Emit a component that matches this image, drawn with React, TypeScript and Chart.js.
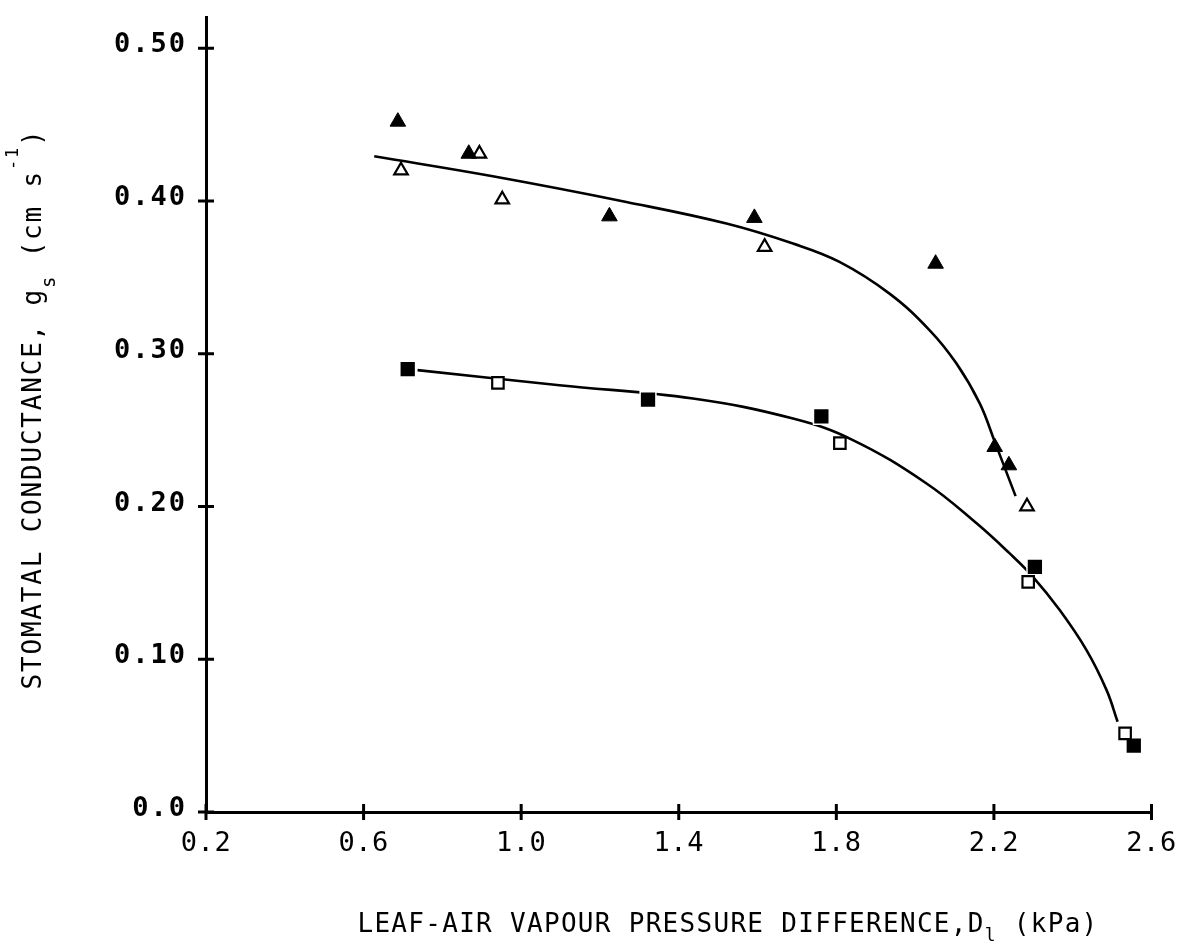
import React, { useEffect, useRef } from 'react';
import { Chart, registerables } from 'chart.js';

Chart.register(...registerables);

const FONT = "'DejaVu Sans Mono', monospace";

const xTickValues = [0.2, 0.6, 1.0, 1.4, 1.8, 2.2, 2.6];
const xTickLabels = ['0.2', '0.6', '1.0', '1.4', '1.8', '2.2', '2.6'];
const yTickValues = [0, 0.1, 0.2, 0.3, 0.4, 0.5];
const yTickLabels = ['0.0', '0.10', '0.20', '0.30', '0.40', '0.50'];

const filledTriangleX = [0.687, 0.867, 1.224, 1.592, 2.052, 2.202, 2.238];
const filledTriangleY = [0.452, 0.431, 0.39, 0.389, 0.359, 0.239, 0.227];
const openTriangleX = [0.695, 0.894, 0.952, 1.618, 2.284];
const openTriangleY = [0.42, 0.431, 0.401, 0.37, 0.2];
const filledSquareX = [0.712, 1.322, 1.762, 2.304, 2.555];
const filledSquareY = [0.29, 0.27, 0.259, 0.1605, 0.0434];
const openSquareX = [0.941, 1.809, 2.287, 2.533];
const openSquareY = [0.281, 0.2415, 0.1507, 0.0515];

const upperFitX = [0.627, 0.928, 1.267, 1.521, 1.69, 1.808, 1.935, 2.037, 2.105, 2.164, 2.202, 2.255];
const upperFitY = [0.4293, 0.4162, 0.3994, 0.3853, 0.3722, 0.3602, 0.3394, 0.3154, 0.2936, 0.2675, 0.2425, 0.2068];
const lowerFitX = [0.737, 1.097, 1.436, 1.69, 1.842, 2.029, 2.156, 2.24, 2.299, 2.367, 2.435, 2.486, 2.514];
const lowerFitY = [0.2893, 0.2794, 0.2707, 0.2576, 0.2435, 0.2151, 0.189, 0.1693, 0.154, 0.1322, 0.106, 0.0798, 0.0591];

const xTitleParts = [
  { text: 'LEAF-AIR VAPOUR PRESSURE DIFFERENCE,D', size: 26, dy: 0 },
  { text: 'l', size: 18, dy: 9 },
  { text: ' (kPa)', size: 26, dy: 0 },
];
const yTitleParts = [
  { text: 'STOMATAL CONDUCTANCE, g', size: 26, dy: 0 },
  { text: 's', size: 19, dy: 14 },
  { text: ' (cm s', size: 26, dy: 0 },
  { text: '-1', size: 17, dy: -23 },
  { text: ')', size: 26, dy: 0 },
];

const zip = (xs: number[], ys: number[]) => xs.map((x, i) => ({ x, y: ys[i] }));

function drawParts(
  ctx: CanvasRenderingContext2D,
  parts: { text: string; size: number; dy: number }[],
  cx: number,
  baseY: number,
  spacing: string
) {
  (ctx as any).letterSpacing = spacing;
  ctx.textAlign = 'left';
  ctx.textBaseline = 'alphabetic';
  ctx.fillStyle = '#000';
  const widths = parts.map((p) => {
    ctx.font = `${p.size}px ${FONT}`;
    return ctx.measureText(p.text).width;
  });
  const total = widths.reduce((a, b) => a + b, 0);
  let x = cx - total / 2;
  parts.forEach((p, i) => {
    ctx.font = `${p.size}px ${FONT}`;
    ctx.fillText(p.text, x, baseY + p.dy);
    x += widths[i];
  });
}

const spacingPlugin = {
  id: 'labelSpacing',
  afterUpdate(chart: any) {
    const conf: [string, string][] = [['x', '0.5px'], ['y', '2px']];
    for (const [id, sp] of conf) {
      const s = chart.scales[id];
      if (s && !s.__wrapped) {
        const orig = s.drawLabels.bind(s);
        s.drawLabels = (area: any) => {
          const ctx = chart.ctx;
          ctx.save();
          ctx.letterSpacing = sp;
          orig(area);
          ctx.restore();
        };
        s.__wrapped = true;
      }
    }
  },
};

const axisTicksPlugin = {
  id: 'axisTicks',
  afterDraw(chart: any) {
    const { ctx } = chart;
    const xs = chart.scales.x;
    const ys = chart.scales.y;
    const x0 = xs.getPixelForValue(xTickValues[0]);
    const y0 = ys.getPixelForValue(0);
    ctx.save();
    ctx.strokeStyle = '#000';
    ctx.lineWidth = 3;
    ctx.lineCap = 'butt';
    ctx.beginPath();
    for (const v of xTickValues) {
      const px = xs.getPixelForValue(v);
      ctx.moveTo(px, y0 - 8);
      ctx.lineTo(px, y0 + 8);
    }
    for (const v of yTickValues) {
      const py = ys.getPixelForValue(v);
      ctx.moveTo(x0 - 8, py);
      ctx.lineTo(x0 + 8, py);
    }
    ctx.stroke();
    ctx.restore();

    ctx.save();
    drawParts(ctx, xTitleParts, 728, 932, '1.3px');
    ctx.restore();

    ctx.save();
    ctx.translate(41, 409);
    ctx.rotate(-Math.PI / 2);
    drawParts(ctx, yTitleParts, 0, 0, '1.8px');
    ctx.restore();
  },
};

export default function App() {
  const ref = useRef<HTMLCanvasElement | null>(null);

  useEffect(() => {
    if (!ref.current) return;
    const chart = new Chart(ref.current, {
      type: 'scatter',
      data: {
        datasets: [
          {
            type: 'scatter',
            label: 'filled triangles',
            data: zip(filledTriangleX, filledTriangleY),
            pointStyle: 'triangle',
            pointRadius: 9,
            backgroundColor: '#000',
            borderColor: '#000',
            borderWidth: 1,
            order: 0,
          },
          {
            type: 'scatter',
            label: 'open triangles',
            data: zip(openTriangleX, openTriangleY),
            pointStyle: 'triangle',
            pointRadius: 7.8,
            backgroundColor: '#fff',
            borderColor: '#000',
            borderWidth: 2.2,
            order: 1,
          },
          {
            type: 'scatter',
            label: 'filled squares',
            data: zip(filledSquareX, filledSquareY),
            pointStyle: 'rect',
            pointRadius: 10.1,
            backgroundColor: '#000',
            borderColor: '#000',
            borderWidth: 0,
            order: 0,
          },
          {
            type: 'scatter',
            label: 'open squares',
            data: zip(openSquareX, openSquareY),
            pointStyle: 'rect',
            pointRadius: 8.1,
            backgroundColor: '#fff',
            borderColor: '#000',
            borderWidth: 2.2,
            order: 1,
          },
          {
            type: 'scatter',
            label: 'filled square gap',
            data: zip(filledSquareX, filledSquareY),
            pointStyle: 'rect',
            pointRadius: 12.2,
            backgroundColor: '#fff',
            borderColor: '#fff',
            borderWidth: 0,
            order: 5,
          },
          {
            type: 'line',
            label: 'upper fit',
            data: zip(upperFitX, upperFitY),
            borderColor: '#000',
            borderWidth: 2.6,
            pointRadius: 0,
            tension: 0.4,
            fill: false,
            order: 10,
          } as any,
          {
            type: 'line',
            label: 'lower fit',
            data: zip(lowerFitX, lowerFitY),
            borderColor: '#000',
            borderWidth: 2.6,
            pointRadius: 0,
            tension: 0.4,
            fill: false,
            order: 10,
          } as any,
        ],
      },
      options: {
        animation: false,
        responsive: false,
        devicePixelRatio: 1,
        layout: { padding: { top: 17.8, right: 30.5, left: 0, bottom: 0 } },
        plugins: {
          legend: { display: false },
          tooltip: { enabled: false },
          title: { display: false },
        },
        scales: {
          x: {
            type: 'linear',
            min: 0.2,
            max: 2.6,
            grid: { display: false, drawTicks: false },
            border: { display: true, color: '#000', width: 3 },
            afterBuildTicks: (s: any) => {
              s.ticks = xTickValues.map((v) => ({ value: v }));
            },
            afterFit: (s: any) => {
              s.height = 130;
              s.paddingLeft = 0;
              s.paddingRight = 0;
              s.paddingTop = 0;
              s.paddingBottom = 0;
            },
            ticks: {
              autoSkip: false,
              maxRotation: 0,
              minRotation: 0,
              padding: 16,
              color: '#000',
              font: { family: FONT, size: 27 },
              callback: (_v: any, i: number) => xTickLabels[i],
            },
          },
          y: {
            type: 'linear',
            min: 0,
            max: 0.52,
            grid: { display: false, drawTicks: false },
            border: { display: true, color: '#000', width: 3 },
            afterBuildTicks: (s: any) => {
              s.ticks = yTickValues.map((v) => ({ value: v }));
            },
            afterFit: (s: any) => {
              s.width = 206;
              s.paddingLeft = 0;
              s.paddingRight = 0;
              s.paddingTop = 0;
              s.paddingBottom = 0;
            },
            ticks: {
              autoSkip: false,
              padding: 19,
              labelOffset: -3,
              color: '#000',
              font: { family: FONT, size: 27, weight: 'bold' },
              callback: (_v: any, i: number) => yTickLabels[i],
            },
          },
        },
      } as any,
      plugins: [spacingPlugin, axisTicksPlugin],
    });
    return () => chart.destroy();
  }, []);

  return (
    <div style={{ position: 'absolute', left: 0, top: 0, width: 1182, height: 942, background: '#fff' }}>
      <canvas ref={ref} width={1182} height={942} style={{ display: 'block', width: 1182, height: 942 }} />
    </div>
  );
}
